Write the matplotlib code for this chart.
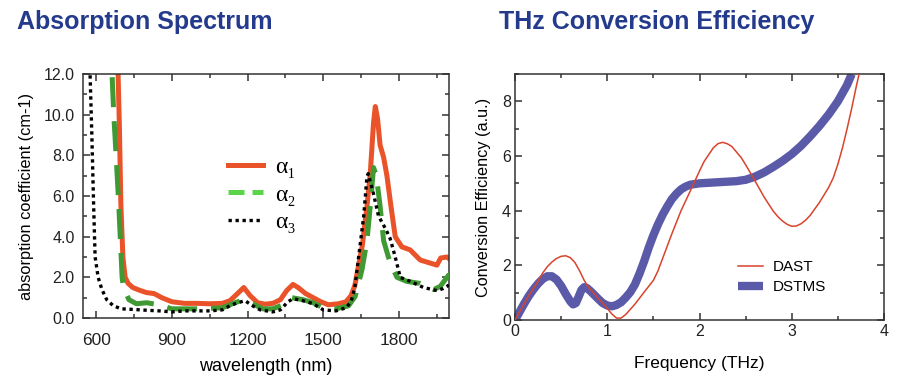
import numpy as np
import matplotlib
matplotlib.use("Agg")
from matplotlib import pyplot as plt
from matplotlib.lines import Line2D
from matplotlib.ticker import MultipleLocator, FormatStrFormatter

# absorption spectrum (left panel)
wl_a1 = [680, 687, 692, 698, 706, 715, 727, 745, 775, 800, 830, 860, 880, 900, 950,
         1000, 1050, 1100, 1130, 1160, 1185, 1210, 1240, 1270, 1300, 1330, 1355, 1380,
         1400, 1430, 1460, 1490, 1520, 1560, 1590, 1610, 1625, 1640, 1655, 1673, 1686,
         1699, 1706, 1715, 1725, 1739, 1752, 1768, 1785, 1811, 1844, 1884, 1924, 1950,
         1965, 1990, 2000]
alpha1 = [14.0, 12.0, 9.5, 5.6, 3.0, 2.0, 1.7, 1.5, 1.35, 1.25, 1.2, 1.0, 0.9, 0.8, 0.72,
          0.72, 0.7, 0.72, 0.85, 1.2, 1.5, 1.1, 0.75, 0.68, 0.72, 0.9, 1.35, 1.65,
          1.5, 1.2, 1.0, 0.8, 0.65, 0.7, 0.8, 1.1, 1.6, 2.6, 3.6, 5.5, 7.1,
          9.6, 10.4, 9.8, 8.5, 7.9, 7.0, 5.5, 4.0, 3.5, 3.35, 2.85, 2.7, 2.6,
          2.95, 3.0, 2.9]

wl_a2 = [650, 663, 670, 680, 690, 697, 703, 708, 730, 760, 800, 850, 900, 1000, 1100,
         1150, 1185, 1220, 1260, 1300, 1340, 1375, 1420, 1460, 1500, 1550, 1600, 1626,
         1653, 1673, 1686, 1699, 1710, 1725, 1739, 1765, 1792, 1831, 1884, 1937, 1963,
         1996, 2000]
alpha2 = [14.0, 12.0, 10.0, 7.8, 5.5, 3.6, 2.0, 1.5, 0.9, 0.7, 0.75, 0.65, 0.45, 0.45, 0.5,
          0.75, 0.9, 0.7, 0.45, 0.45, 0.65, 1.0, 0.9, 0.75, 0.5, 0.45, 0.6, 1.05,
          2.36, 3.8, 5.5, 7.4, 7.0, 5.5, 3.8, 2.7, 2.0, 1.8, 1.7, 1.4, 1.55,
          2.1, 2.1]

wl_a3 = [570, 576, 583, 590, 596, 608, 623, 642, 668, 700, 750, 800, 850, 900, 950, 1000,
         1050, 1100, 1130, 1160, 1190, 1220, 1250, 1300, 1330, 1360, 1380, 1420, 1460,
         1500, 1550, 1590, 1610, 1625, 1640, 1660, 1673, 1678, 1699, 1719, 1733, 1750,
         1765, 1785, 1805, 1845, 1897, 1950, 1975, 1996, 2000]
alpha3 = [14.0, 12.0, 9.0, 5.6, 3.0, 2.0, 1.4, 0.9, 0.6, 0.45, 0.42, 0.38, 0.35, 0.3, 0.35,
          0.35, 0.35, 0.4, 0.6, 0.75, 0.85, 0.6, 0.4, 0.3, 0.4, 0.8, 0.95, 0.85, 0.7,
          0.4, 0.35, 0.5, 0.8, 1.5, 3.0, 5.0, 6.95, 7.1, 6.1, 5.0, 4.7, 4.3,
          3.9, 3.0, 2.0, 1.8, 1.5, 1.35, 1.45, 1.6, 1.7]

# THz conversion efficiency (right panel)
f_dast = [0.0, 0.05, 0.1, 0.15, 0.2, 0.25, 0.3, 0.35, 0.4, 0.45, 0.5, 0.55, 0.6, 0.65,
          0.7, 0.75, 0.8, 0.85, 0.9, 0.95, 1.0, 1.05, 1.1, 1.15, 1.2, 1.3, 1.4, 1.5,
          1.55, 1.6, 1.7, 1.8, 1.9, 2.0, 2.05, 2.1, 2.15, 2.2, 2.25, 2.3, 2.35, 2.4,
          2.45, 2.5, 2.6, 2.7, 2.8, 2.85, 2.9, 2.95, 3.0, 3.05, 3.1, 3.15, 3.2, 3.3,
          3.4, 3.45, 3.5, 3.55, 3.6, 3.65, 3.7, 3.75]
dast = [0.0, 0.3, 0.6, 0.9, 1.15, 1.42, 1.72, 1.95, 2.12, 2.25, 2.33, 2.35, 2.28, 2.1,
        1.8, 1.45, 1.18, 1.0, 0.8, 0.62, 0.42, 0.22, 0.07, 0.07, 0.2, 0.58, 1.02, 1.45,
        1.8, 2.25, 3.15, 4.0, 4.72, 5.45, 5.8, 6.05, 6.3, 6.45, 6.5, 6.45, 6.35, 6.15,
        5.95, 5.68, 5.1, 4.5, 3.98, 3.78, 3.62, 3.5, 3.43, 3.44, 3.52, 3.65, 3.83, 4.3,
        4.85, 5.2, 5.7, 6.3, 7.0, 7.75, 8.55, 9.3]

f_dstms = [0.0, 0.05, 0.1, 0.15, 0.2, 0.25, 0.3, 0.35, 0.4, 0.45, 0.5, 0.55, 0.6, 0.63,
           0.66, 0.69, 0.72, 0.75, 0.78, 0.82, 0.9, 0.95, 1.0, 1.05, 1.1, 1.15, 1.2, 1.25,
           1.3, 1.35, 1.4, 1.45, 1.5, 1.55, 1.6, 1.65, 1.7, 1.75, 1.8, 1.85, 1.9, 2.0,
           2.2, 2.4, 2.5, 2.6, 2.7, 2.8, 2.9, 3.0, 3.1, 3.2, 3.3, 3.4, 3.5, 3.6, 3.65]
dstms = [0.0, 0.3, 0.6, 0.88, 1.12, 1.33, 1.5, 1.6, 1.6, 1.48, 1.25, 0.95, 0.68, 0.57,
         0.62, 0.85, 1.1, 1.2, 1.17, 1.05, 0.78, 0.62, 0.53, 0.5, 0.55, 0.65, 0.82, 1.02,
         1.3, 1.7, 2.15, 2.65, 3.1, 3.5, 3.85, 4.15, 4.42, 4.62, 4.78, 4.88, 4.95, 5.0,
         5.04, 5.08, 5.13, 5.24, 5.4, 5.6, 5.82, 6.07, 6.37, 6.72, 7.1, 7.52, 8.0, 8.6, 9.0]

title_color = '#243a8c'
red = '#ea5329'
green = '#3f9a34'
sans = ['Liberation Sans', 'DejaVu Sans']
narrow = ['Liberation Sans Narrow', 'Liberation Sans', 'DejaVu Sans']

plt.rcParams['font.family'] = sans
plt.rcParams['axes.edgecolor'] = '#333333'
plt.rcParams['axes.linewidth'] = 1.1

fig = plt.figure(figsize=(9.05, 3.89), dpi=100)

fig.text(17 / 905, 1 - 22 / 389, 'Absorption Spectrum', fontsize=18, fontweight='bold',
         color=title_color, va='center', ha='left')
fig.text(499 / 905, 1 - 22 / 389, 'THz Conversion Efficiency', fontsize=18,
         fontweight='bold', color=title_color, va='center', ha='left')

# ---- left panel
ax1 = fig.add_axes([83 / 905, 71 / 389, 366 / 905, 244 / 389])
ax1.plot(wl_a1, alpha1, color=red, lw=3.6, solid_joinstyle='round', zorder=2)
ax1.plot(wl_a2, alpha2, color=green, lw=3.6, dashes=(6, 2.8), zorder=3)
ax1.plot(wl_a3, alpha3, color='black', lw=2.4, linestyle=(0, (1, 1.1)), zorder=4)
ax1.set_xlim(548, 1998)
ax1.set_ylim(0, 12)
ax1.xaxis.set_major_locator(MultipleLocator(300))
ax1.xaxis.set_minor_locator(MultipleLocator(150))
ax1.yaxis.set_major_locator(MultipleLocator(2))
ax1.yaxis.set_minor_locator(MultipleLocator(1))
ax1.yaxis.set_major_formatter(FormatStrFormatter('%.1f'))
ax1.tick_params(which='both', direction='in', top=True, right=True, width=1.1,
                colors='#333333', labelcolor='#222222')
ax1.tick_params(which='major', length=5)
ax1.tick_params(which='minor', length=3)
ax1.tick_params(axis='x', labelsize=12.5, pad=11)
ax1.tick_params(axis='y', labelsize=11.5, pad=6)
for lab in ax1.get_xticklabels() + ax1.get_yticklabels():
    lab.set_family(narrow)
ax1.set_xlabel('wavelength (nm)', fontsize=13, family=narrow, labelpad=7)
ax1.set_ylabel('absorption coefficient (cm-1)', fontsize=11.8, family=sans, labelpad=7)

handles = [Line2D([], [], color=red, lw=3.6),
           Line2D([], [], color='#5bd44a', lw=3.6, dashes=(3.2, 1.6)),
           Line2D([], [], color='black', lw=2.4, linestyle=(0, (1, 1.1)))]
leg1 = ax1.legend(handles, ['α₁', 'α₂', 'α₃'], loc='center left',
                  bbox_to_anchor=(0.37, 0.505), borderaxespad=0, frameon=False,
                  handlelength=1.5, handletextpad=0.5, labelspacing=0.25,
                  prop={'family': ['Liberation Serif', 'DejaVu Serif'], 'size': 17})

# ---- right panel
ax2 = fig.add_axes([515 / 905, 69 / 389, 369 / 905, 246 / 389])
ax2.plot(f_dast, dast, color='#d9432c', lw=1.1, label='DAST', zorder=3)
ax2.plot(f_dstms, dstms, color='#5b5aa8', lw=6, label='DSTMS', zorder=2,
         solid_capstyle='butt', solid_joinstyle='round')
ax2.set_xlim(0, 4)
ax2.set_ylim(0, 9)
ax2.xaxis.set_major_locator(MultipleLocator(1))
ax2.xaxis.set_minor_locator(MultipleLocator(0.5))
ax2.yaxis.set_major_locator(MultipleLocator(2))
ax2.yaxis.set_minor_locator(MultipleLocator(1))
ax2.tick_params(which='both', direction='in', top=True, right=True, width=1.1,
                colors='#333333', labelcolor='#222222', labelsize=11.5)
ax2.tick_params(which='major', length=5)
ax2.tick_params(which='minor', length=3)
ax2.tick_params(axis='x', pad=3)
ax2.tick_params(axis='y', pad=3)
ax2.set_xlabel('Frequency (THz)', fontsize=12.5, labelpad=12)
ax2.set_ylabel('Conversion Efficiency (a.u.)', fontsize=11.7, labelpad=8)
ax2.legend(loc='center left', bbox_to_anchor=(0.588, 0.175), borderaxespad=0,
           frameon=False, fontsize=11, handlelength=1.6, handletextpad=0.65,
           labelspacing=0.4)

plt.savefig('out.png', dpi=100)
plt.close()
